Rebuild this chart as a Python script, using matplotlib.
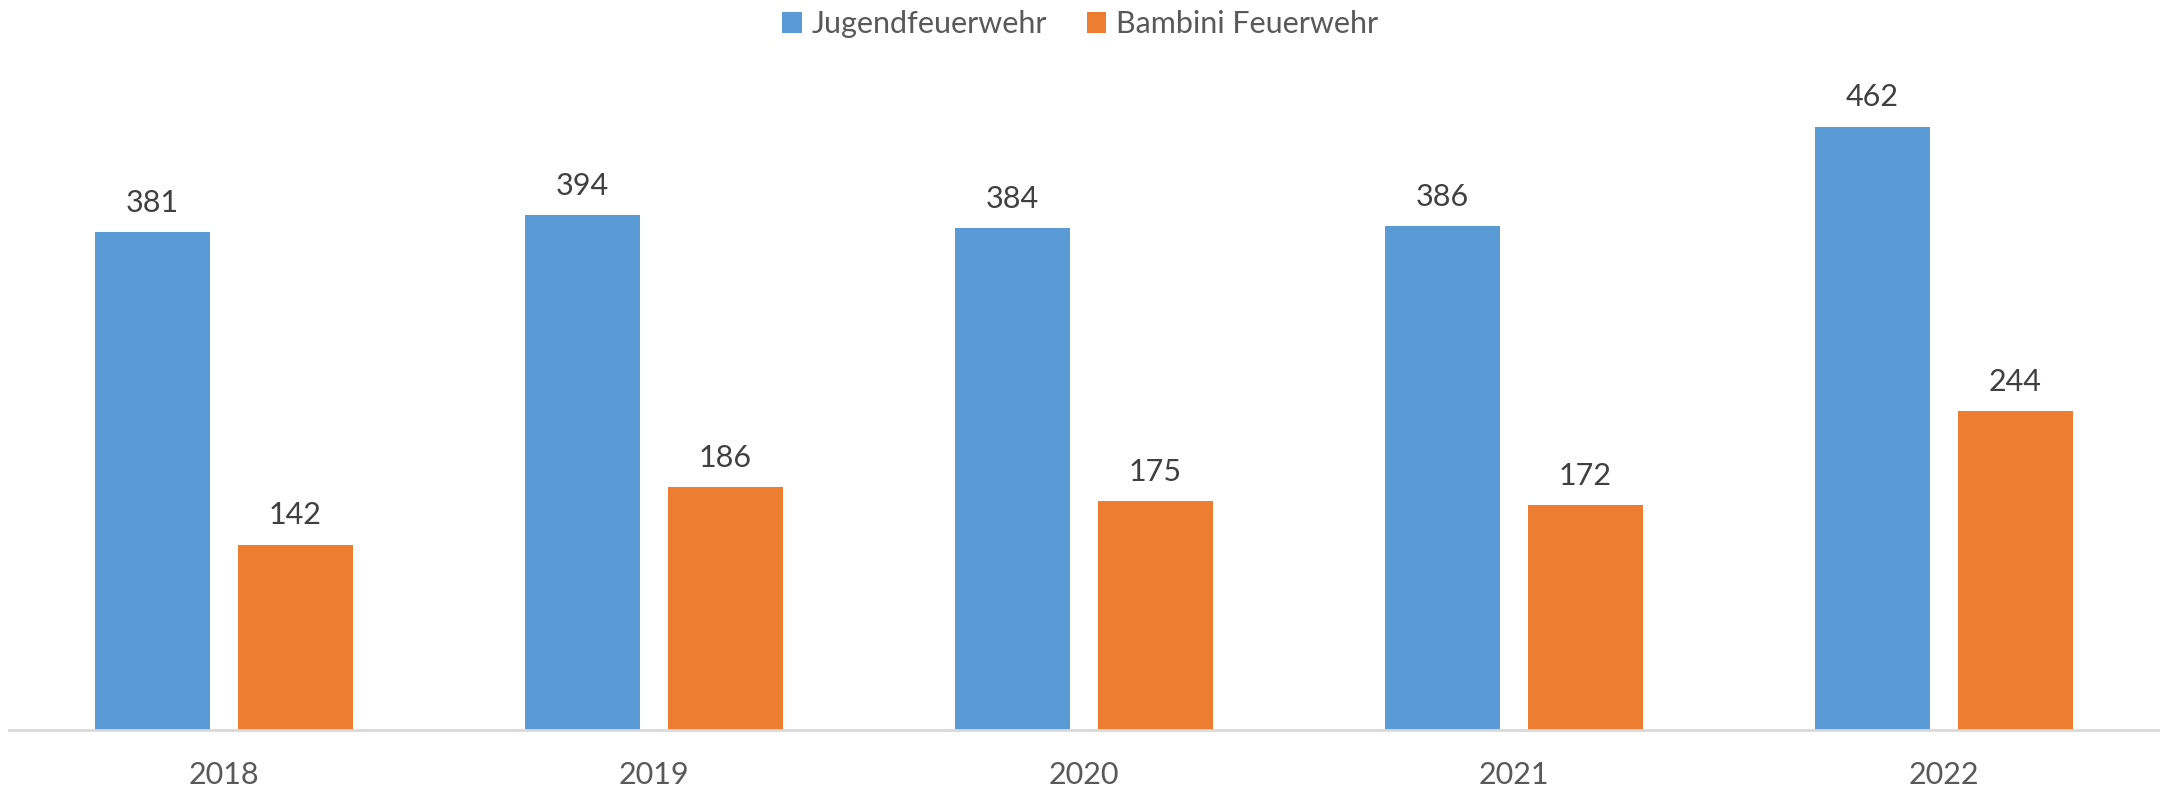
import matplotlib
matplotlib.use("Agg")
import matplotlib.pyplot as plt
import numpy as np

years = ["2018", "2019", "2020", "2021", "2022"]
jugend = [381, 394, 384, 386, 462]
bambini = [142, 186, 175, 172, 244]
series_names = ["Jugendfeuerwehr", "Bambini Feuerwehr"]

plt.rcParams['font.family'] = ['Lato', 'DejaVu Sans']

fig = plt.figure(figsize=(21.6, 7.86), dpi=100)
ax = fig.add_axes([9/2160, 56/786, 2150/2160, 653/786])

x = np.arange(len(years))
w = 0.267
off = 0.166
b1 = ax.bar(x - off, jugend, w, color="#5B9BD5", label=series_names[0])
b2 = ax.bar(x + off, bambini, w, color="#ED7D31", label=series_names[1])

# data labels
for bars in (b1, b2):
    for rect in bars:
        ax.annotate(str(int(rect.get_height())),
                    (rect.get_x() + rect.get_width()/2, rect.get_height()),
                    xytext=(0, 11), textcoords="offset points",
                    ha="center", va="bottom", fontsize=22, color="#404040")

ax.set_xlim(-0.5, len(years) - 0.5)
ax.set_ylim(0, 500)
ax.set_xticks(x)
ax.set_xticklabels(years, fontsize=22, color="#595959")
ax.tick_params(axis="x", length=0, pad=22)
ax.set_yticks([])
for s in ["top", "right", "left"]:
    ax.spines[s].set_visible(False)
ax.spines["bottom"].set_color("#D9D9D9")
ax.spines["bottom"].set_linewidth(2)

fig.legend(loc="upper center", bbox_to_anchor=(0.5, 1.022), ncol=2, frameon=False,
           fontsize=22, handlelength=0.65, handleheight=0.65, handletextpad=0.3,
           columnspacing=1.3, labelcolor="#595959")

fig.savefig("out.png", dpi=100)
